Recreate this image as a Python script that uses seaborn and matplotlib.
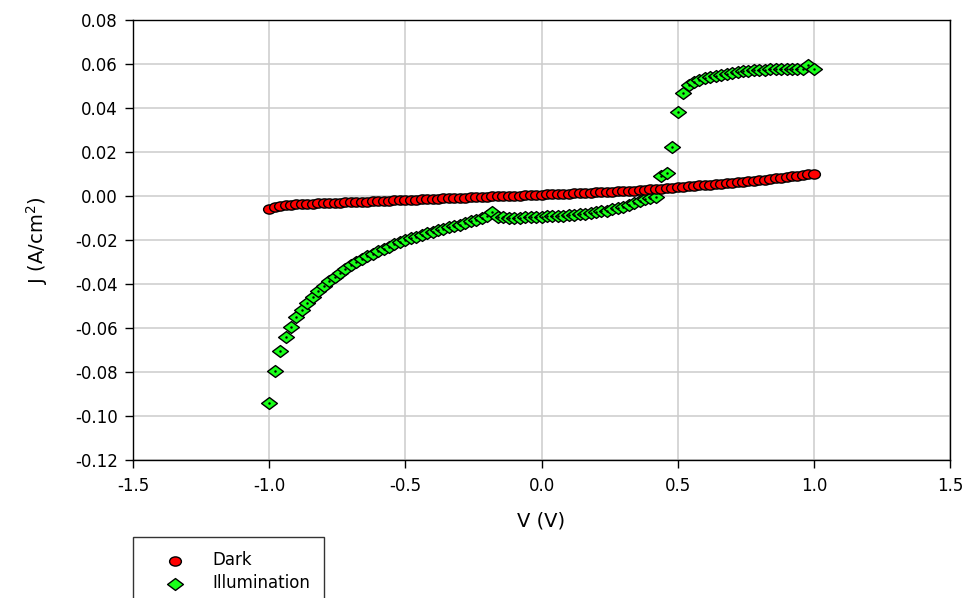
import numpy as np
import pandas as pd
import seaborn as sns
import matplotlib.pyplot as plt
from matplotlib.path import Path

# Bias voltage (V), same sweep for both curves
voltage = [round(-1.0 + 0.02 * i, 2) for i in range(101)]

# Current density (A/cm2) in the dark
j_dark = [
    -0.0058, -0.0050, -0.0045, -0.0042, -0.0040, -0.0038, -0.0037, -0.0036, -0.0035, -0.0034,
    -0.0033, -0.0032, -0.0031, -0.0030, -0.0029, -0.0028, -0.0027, -0.0026, -0.0025, -0.0024,
    -0.0023, -0.0022, -0.0021, -0.0020, -0.0019, -0.0018, -0.0017, -0.0016, -0.0015, -0.0014,
    -0.0013, -0.0012, -0.0011, -0.0010, -0.0009, -0.0008, -0.0007, -0.0006, -0.0005, -0.0004,
    -0.0003, -0.0002, -0.0001, 0.0000, 0.0001, 0.0001, 0.0002, 0.0003, 0.0004, 0.0005,
    0.0006, 0.0007, 0.0008, 0.0009, 0.0010, 0.0011, 0.0012, 0.0013, 0.0014, 0.0015,
    0.0016, 0.0017, 0.0018, 0.0020, 0.0021, 0.0022, 0.0024, 0.0025, 0.0027, 0.0028,
    0.0030, 0.0032, 0.0034, 0.0036, 0.0038, 0.0040, 0.0042, 0.0044, 0.0046, 0.0048,
    0.0050, 0.0052, 0.0054, 0.0056, 0.0058, 0.0060, 0.0063, 0.0065, 0.0068, 0.0070,
    0.0073, 0.0075, 0.0078, 0.0081, 0.0084, 0.0087, 0.0090, 0.0093, 0.0096, 0.0099,
    0.0102,
]

# Current density (A/cm2) under illumination
j_light = [
    -0.0940, -0.0795, -0.0705, -0.0643, -0.0594, -0.0552, -0.0518, -0.0485, -0.0458, -0.0432,
    -0.0410, -0.0388, -0.0368, -0.0349, -0.0331, -0.0315, -0.0300, -0.0287, -0.0274, -0.0262,
    -0.0251, -0.0240, -0.0230, -0.0220, -0.0210, -0.0201, -0.0193, -0.0185, -0.0177, -0.0170,
    -0.0163, -0.0156, -0.0149, -0.0143, -0.0136, -0.0130, -0.0124, -0.0115, -0.0108, -0.0100,
    -0.0090, -0.0073, -0.0095, -0.0097, -0.0098, -0.0098, -0.0098, -0.0097, -0.0096, -0.0095,
    -0.0094, -0.0093, -0.0092, -0.0091, -0.0090, -0.0088, -0.0086, -0.0084, -0.0081, -0.0078,
    -0.0074, -0.0070, -0.0066, -0.0061, -0.0055, -0.0048, -0.0040, -0.0032, -0.0023, -0.0014,
    -0.0007, -0.0003, 0.0092, 0.0106, 0.0225, 0.0382, 0.0470, 0.0505, 0.0518, 0.0528,
    0.0536, 0.0542, 0.0547, 0.0552, 0.0556, 0.0560, 0.0563, 0.0566, 0.0569, 0.0571,
    0.0573, 0.0575, 0.0576, 0.0577, 0.0577, 0.0578, 0.0578, 0.0578, 0.0579, 0.0595,
    0.0578,
]

x_ticks = [-1.5, -1.0, -0.5, 0.0, 0.5, 1.0, 1.5]
y_ticks = [-0.12, -0.10, -0.08, -0.06, -0.04, -0.02, 0.00, 0.02, 0.04, 0.06, 0.08]

dark_df = pd.DataFrame({'V': voltage, 'J': j_dark})
light_df = pd.DataFrame({'V': voltage, 'J': j_light})

# the original export is stretched sideways, so the markers are a bit wider than tall
circ = Path.unit_circle()
wide_circle = Path(circ.vertices * np.array([1.0, 0.78]), circ.codes)
wide_diamond = Path([(-1, 0), (0, 0.75), (1, 0), (0, -0.75), (-1, 0)], closed=True)

sns.set_style('white')
plt.rcParams['font.family'] = ['DejaVu Sans']
plt.rcParams['axes.unicode_minus'] = False
plt.rcParams['mathtext.default'] = 'regular'
for key in ['text.color', 'axes.labelcolor', 'xtick.color', 'ytick.color']:
    plt.rcParams[key] = 'black'

fig = plt.figure(figsize=(9.67, 5.98), dpi=100)
ax = fig.add_axes([133 / 967, 1 - 460 / 598, (950 - 133) / 967, (460 - 20) / 598])

sns.scatterplot(data=light_df, x='V', y='J', ax=ax, marker=wide_diamond, s=130,
                color='#19ff19', edgecolor='black', linewidth=1.0,
                label='Illumination', zorder=3)
# little centre dot the original plotting program leaves in the diamonds
ax.scatter(light_df['V'], light_df['J'], s=0.6, color='black', zorder=3.5)
sns.scatterplot(data=dark_df, x='V', y='J', ax=ax, marker=wide_circle, s=72,
                color='#ff0000', edgecolor='black', linewidth=1.0,
                label='Dark', zorder=4)

ax.set_xlim(-1.5, 1.5)
ax.set_ylim(-0.12, 0.08)
ax.set_xticks(x_ticks)
ax.set_xticklabels([f'{t:.1f}' for t in x_ticks])
ax.set_yticks(y_ticks)
ax.set_yticklabels([f'{t:.2f}' for t in y_ticks])
ax.tick_params(axis='both', which='major', direction='out', length=6, width=1,
               color='black', labelcolor='black', labelsize=12,
               bottom=True, left=True)
ax.tick_params(axis='x', pad=6)
ax.tick_params(axis='y', pad=5)

ax.grid(True, color='#cccccc', linewidth=1.1)
ax.set_axisbelow(True)
for sp in ax.spines.values():
    sp.set_visible(True)
    sp.set_color('black')
    sp.set_linewidth(1.0)

ax.set_xlabel('V (V)', fontsize=14, labelpad=12, color='black')
ax.set_ylabel('J (A/cm$^{2}$)', fontsize=14, labelpad=18, color='black')

# legend below the plot, partly cut off by the figure edge like the original
ax.get_legend().remove()
handles, labels = ax.get_legend_handles_labels()
order = [labels.index('Dark'), labels.index('Illumination')]
leg = fig.legend([handles[i] for i in order], [labels[i] for i in order],
                 loc='upper left', bbox_to_anchor=(133 / 967, 1 - 537 / 598),
                 frameon=True, fancybox=False, fontsize=12, borderpad=0.85,
                 handlelength=3.3, handletextpad=0.6, labelspacing=0.32,
                 borderaxespad=0)
leg.get_frame().set_edgecolor('black')
leg.get_frame().set_linewidth(1.0)
for txt in leg.get_texts():
    txt.set_color('black')

fig.savefig('out.png', dpi=100)
